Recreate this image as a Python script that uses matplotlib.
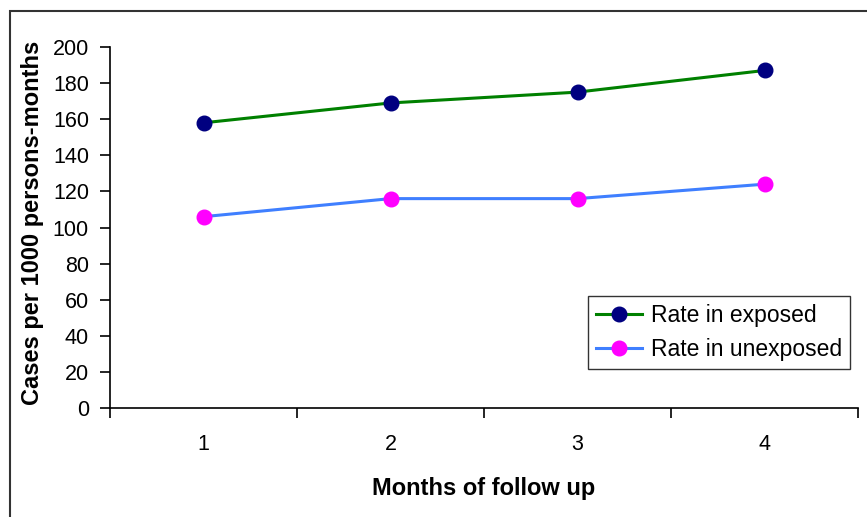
import matplotlib
matplotlib.use("Agg")
import matplotlib.pyplot as plt
from matplotlib.patches import Rectangle

months = [1, 2, 3, 4]
month_labels = ["1", "2", "3", "4"]
rate_exposed = [158, 169, 175, 187]
rate_unexposed = [106, 116, 116, 124]
y_ticks = list(range(0, 201, 20))

plt.rcParams['font.family'] = ['Liberation Sans', 'DejaVu Sans']

W, H = 867, 517
fig = plt.figure(figsize=(W / 100, H / 100), dpi=100)
ax = fig.add_axes([110 / W, 1 - 408 / H, (858 - 110) / W, (408 - 47) / H])

ax.plot(months, rate_exposed, color='#008000', lw=2.2, marker='o', ms=10.5,
        mfc='#000080', mec='#000080', label='Rate in exposed')
ax.plot(months, rate_unexposed, color='#3F7FFF', lw=2.2, marker='o', ms=10.5,
        mfc='#FF00FF', mec='#FF00FF', label='Rate in unexposed')

ax.set_xlim(0.5, 4.5)
ax.set_ylim(0, 200)
ax.set_yticks(y_ticks)
ax.set_yticklabels([str(v) for v in y_ticks], fontsize=15.5)
ax.set_xticks([0.5, 1.5, 2.5, 3.5, 4.5])
ax.set_xticklabels([])
ax.set_xticks(months, minor=True)
ax.set_xticklabels(month_labels, minor=True, fontsize=15.5)
ax.tick_params(axis='x', which='minor', length=0, pad=19)
ax.tick_params(axis='x', which='major', length=7, width=1.2, direction='out', color='black')
ax.tick_params(axis='y', length=7.2, width=1.2, direction='out', pad=8)

for s in ['top', 'right']:
    ax.spines[s].set_visible(False)
for s in ['left', 'bottom']:
    ax.spines[s].set_linewidth(1.2)
    ax.spines[s].set_color('black')

fig.text(33 / W, 1 - 223 / H, 'Cases per 1000 persons-months', rotation=90,
         fontsize=17, fontweight='bold', ha='center', va='center')
fig.text(484 / W, 1 - 489 / H, 'Months of follow up',
         fontsize=17, fontweight='bold', ha='center', va='center')

leg = ax.legend(loc='lower right', bbox_to_anchor=(850 / W, 1 - 369 / H, 0, 0),
                bbox_transform=fig.transFigure, frameon=True, fancybox=False,
                edgecolor='black', fontsize=16.5, handlelength=2.0, borderpad=0.35,
                labelspacing=0.5, handletextpad=0.4, borderaxespad=0)
leg.get_frame().set_linewidth(1.0)

fig.patches.append(Rectangle((9.5 / W, -0.1), 1.2, 1.1 - 11 / H, transform=fig.transFigure,
                             fill=False, edgecolor='#333333', linewidth=1.5))

fig.savefig('out.png', dpi=100)
